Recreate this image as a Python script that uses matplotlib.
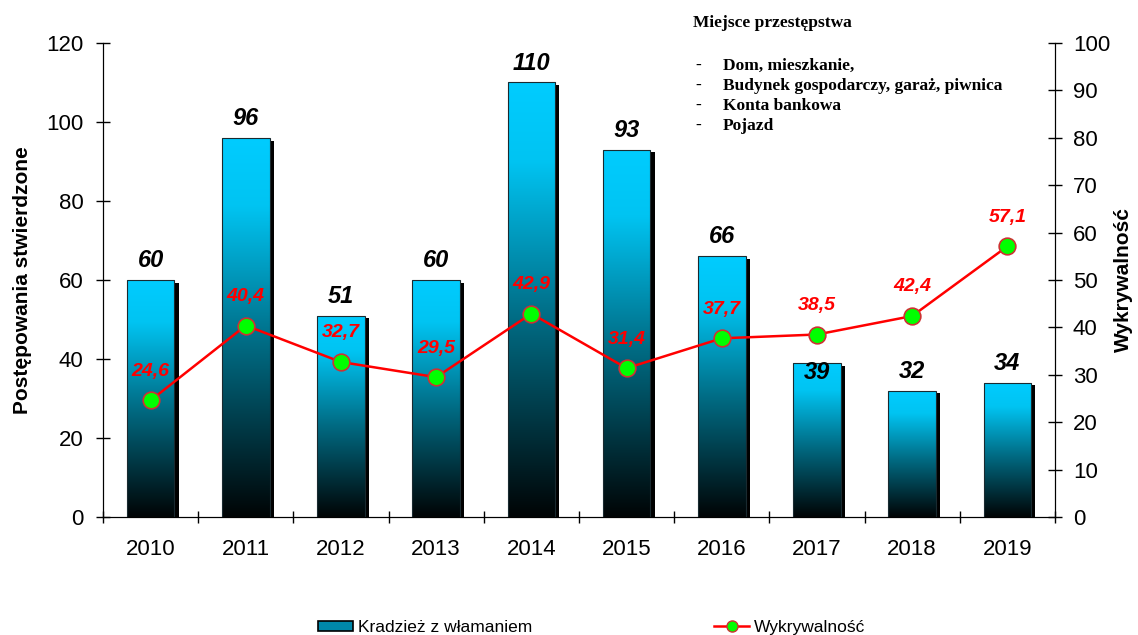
import numpy as np
import matplotlib
matplotlib.use("Agg")
import matplotlib.pyplot as plt
from matplotlib.colors import LinearSegmentedColormap
from matplotlib.patches import Patch
from matplotlib.lines import Line2D
import matplotlib.patheffects as pe

# data
years = ["2010", "2011", "2012", "2013", "2014", "2015", "2016", "2017", "2018", "2019"]
cases = [60, 96, 51, 60, 110, 93, 66, 39, 32, 34]
detection = [24.6, 40.4, 32.7, 29.5, 42.9, 31.4, 37.7, 38.5, 42.4, 57.1]
detection_labels = ["24,6", "40,4", "32,7", "29,5", "42,9", "31,4", "37,7", "38,5", "42,4", "57,1"]
places = ["Dom, mieszkanie,", "Budynek gospodarczy, garaż, piwnica", "Konta bankowa", "Pojazd"]

# vertical offsets (points) of the bar value labels
bar_label_offsets = [14, 14, 14, 14, 14, 14, 14, -7, 14, 14]

plt.rcParams["font.family"] = ["Liberation Sans", "DejaVu Sans"]

fig = plt.figure(figsize=(11.38, 6.35), dpi=100)
ax = fig.add_axes([0.0905, 0.1858, 0.8365, 0.7465])
x = np.arange(len(years))

cmap = LinearSegmentedColormap.from_list(
    "bar", [(0.0, "#000405"), (0.45, "#006a82"), (0.82, "#00c4f2"), (1.0, "#00ccff")]
)
grad = np.linspace(0, 1, 256).reshape(-1, 1)

bars = ax.bar(x, cases, width=0.5, color="#00ccff", edgecolor="none", zorder=2,
              path_effects=[pe.SimplePatchShadow(offset=(3, -2), shadow_rgbFace="black", alpha=1.0),
                            pe.Normal()])
for b in bars:
    x0, w, h = b.get_x(), b.get_width(), b.get_height()
    im = ax.imshow(grad, origin="lower", extent=[x0, x0 + w, 0, h], aspect="auto",
                   cmap=cmap, zorder=2.5, interpolation="bilinear")
    im.set_clip_path(b)
ax.bar(x, cases, width=0.5, fill=False, edgecolor="#1a2a30", linewidth=0.8, zorder=3)

for xi, v, off in zip(x, cases, bar_label_offsets):
    ax.annotate(str(v), (xi, v), xytext=(0, off), textcoords="offset points",
                ha="center", va="center", fontsize=17, fontweight="bold",
                fontstyle="italic", color="black", zorder=4)

ax.set_xlim(-0.5, len(years) - 0.5)
ax.set_ylim(0, 120)
ax.set_yticks(range(0, 121, 20))
ax.set_xticks(x)
ax.set_xticklabels(years)
ax.set_xticks(np.arange(-0.5, len(years), 1.0), minor=True)
ax.tick_params(axis="x", which="major", length=0, labelsize=16, pad=16)
ax.tick_params(axis="x", which="minor", direction="inout", length=9, width=1)
ax.tick_params(axis="y", direction="inout", length=10, width=1, labelsize=16, pad=9)
ax.spines["top"].set_visible(False)
ax.set_ylabel("Postępowania stwierdzone", fontsize=15, fontweight="bold", labelpad=10)

ax2 = ax.twinx()
ax2.plot(x, detection, color="#ff0000", linewidth=1.8, marker="o", markersize=12,
         markerfacecolor="#00ff00", markeredgecolor="#cc3333", markeredgewidth=1.2, zorder=5)
for xi, v, lab in zip(x, detection, detection_labels):
    ax2.annotate(lab, (xi, v), xytext=(0, 21), textcoords="offset points",
                 ha="center", va="center", fontsize=14, fontweight="bold",
                 fontstyle="italic", color="#ff0000")
ax2.set_ylim(0, 100)
ax2.set_yticks(range(0, 101, 10))
ax2.tick_params(axis="y", direction="inout", length=10, width=1, labelsize=16, pad=8)
ax2.spines["top"].set_visible(False)
ax2.set_ylabel("Wykrywalność", fontsize=15, fontweight="bold", labelpad=3)

# place-of-crime note
fig.text(0.609, 0.963, "Miejsce przestępstwa", fontsize=12.5, fontweight="bold",
         family="Liberation Serif", va="center")
for i, p in enumerate(places):
    yy = 0.896 - i * 0.0315
    fig.text(0.611, yy, "-", fontsize=12.5, fontweight="bold", family="Liberation Serif", va="center")
    fig.text(0.635, yy, p, fontsize=12.5, fontweight="bold", family="Liberation Serif", va="center")

handles = [
    Patch(facecolor="#0088aa", edgecolor="black", linewidth=1.2),
    Line2D([0], [0], color="#ff0000", linewidth=1.8, marker="o", markersize=8,
           markerfacecolor="#00ff00", markeredgecolor="#cc3333"),
]
fig.legend(handles, ["Kradzież z włamaniem", "Wykrywalność"], loc="center",
           bbox_to_anchor=(0.52, 0.012), ncol=2, frameon=False, fontsize=12.5,
           handlelength=2.0, handleheight=0.5, handletextpad=0.3, columnspacing=10.5)

fig.savefig("out.png", dpi=100)
